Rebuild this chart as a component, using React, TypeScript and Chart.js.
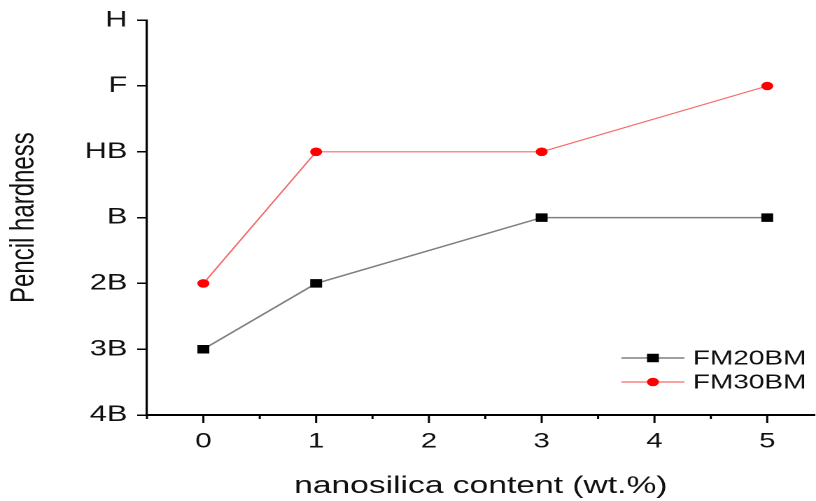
import React, { useEffect, useRef } from 'react';
import { Chart, registerables } from 'chart.js';
Chart.register(...registerables);

const hardnessLevels = ['4B', '3B', '2B', 'B', 'HB', 'F', 'H'];
const contents = [0, 1, 3, 5];
const fm20bm = ['3B', '2B', 'B', 'B'];
const fm30bm = ['2B', 'HB', 'HB', 'F'];
const seriesNames = ['FM20BM', 'FM30BM'];
const xAxisTitle = 'nanosilica content (wt.%)';
const yAxisTitle = 'Pencil hardness';

const W = 816;
const H = 501;
const STRETCH = 816 / 583;
const CW = 588;
const FONT = '"Liberation Sans", Arial, sans-serif';

const toPoints = (vals: string[]) =>
  contents.map((x, i) => ({ x, y: hardnessLevels.indexOf(vals[i]) }));

const xTicksPlugin = {
  id: 'xTicksCustom',
  afterDraw(chart: any) {
    const s = chart.scales.x;
    const ctx = chart.ctx;
    ctx.save();
    ctx.strokeStyle = '#000';
    ctx.lineWidth = 1.5;
    for (const t of s.ticks) {
      const v = t.value;
      if (v < s.min - 1e-9 || v > s.max + 1e-9) continue;
      const major = Math.abs(v - Math.round(v)) < 1e-6;
      const px = s.getPixelForValue(v);
      ctx.beginPath();
      ctx.moveTo(px, s.top);
      ctx.lineTo(px, s.top + (major ? 8 : 4));
      ctx.stroke();
    }
    ctx.restore();
  },
};

const legendPlugin = {
  id: 'lineLegend',
  afterDraw(chart: any) {
    const { ctx, chartArea } = chart;
    const x0 = chartArea.right - 138;
    const y0 = chartArea.bottom - 57;
    ctx.save();
    chart.data.datasets.forEach((ds: any, i: number) => {
      const y = y0 + i * 24;
      ctx.strokeStyle = ds.borderColor;
      ctx.lineWidth = ds.borderWidth;
      ctx.beginPath();
      ctx.moveTo(x0, y);
      ctx.lineTo(x0 + 45, y);
      ctx.stroke();
      ctx.fillStyle = ds.pointBackgroundColor;
      const cx = x0 + 22.5;
      if (ds.pointStyle === 'rect') {
        const half = ds.pointRadius * Math.SQRT1_2;
        ctx.fillRect(cx - half, y - half, half * 2, half * 2);
      } else {
        ctx.beginPath();
        ctx.arc(cx, y, ds.pointRadius, 0, Math.PI * 2);
        ctx.fill();
      }
      ctx.fillStyle = '#111';
      ctx.font = `20px ${FONT}`;
      ctx.textAlign = 'left';
      ctx.textBaseline = 'middle';
      ctx.fillText(ds.label, x0 + 51, y + 1);
    });
    ctx.restore();
  },
};

export default function App() {
  const ref = useRef<HTMLCanvasElement | null>(null);
  useEffect(() => {
    if (!ref.current) return;
    const chart = new Chart(ref.current, {
      type: 'line',
      data: {
        datasets: [
          {
            label: seriesNames[0],
            data: toPoints(fm20bm),
            borderColor: '#808080',
            borderWidth: 1.5,
            pointStyle: 'rect',
            pointRadius: 6,
            pointBackgroundColor: '#000',
            pointBorderColor: '#000',
            pointBorderWidth: 0,
            tension: 0,
          },
          {
            label: seriesNames[1],
            data: toPoints(fm30bm),
            borderColor: '#f56a6a',
            borderWidth: 1.2,
            pointStyle: 'circle',
            pointRadius: 4.3,
            pointBackgroundColor: '#ff0000',
            pointBorderColor: '#ff0000',
            pointBorderWidth: 0,
            tension: 0,
          },
        ],
      },
      options: {
        animation: false,
        responsive: false,
        devicePixelRatio: 2,
        events: [],
        layout: { padding: { top: 20, left: 0, right: 0, bottom: 0 } },
        plugins: { legend: { display: false }, tooltip: { enabled: false } },
        scales: {
          x: {
            type: 'linear',
            min: -0.5,
            max: 5.42,
            afterFit: (s: any) => { s.height = 86; s.paddingLeft = 0; s.paddingRight = 0; },
            grid: { display: true, drawOnChartArea: false, drawTicks: false },
            border: { display: true, color: '#000', width: 2 },
            ticks: {
              stepSize: 0.5,
              includeBounds: false,
              autoSkip: false,
              maxRotation: 0,
              padding: 14,
              color: '#111',
              font: { family: FONT, size: 21 },
              callback: (v: any) =>
                Math.abs(v - Math.round(v)) < 1e-6 ? String(Math.round(v)) : '',
            },
            title: {
              display: true,
              text: xAxisTitle,
              color: '#111',
              font: { family: FONT, size: 24 },
              padding: { top: 0, bottom: 0 },
            },
          },
          y: {
            type: 'linear',
            min: 0,
            max: 6,
            afterFit: (s: any) => { s.width = 105; },
            grid: { display: true, drawOnChartArea: false, drawTicks: true, tickLength: 7, color: '#000', lineWidth: 1.5 },
            border: { display: true, color: '#000', width: 1.6 },
            ticks: {
              stepSize: 1,
              padding: 7,
              color: '#111',
              font: { family: FONT, size: 22 },
              callback: (v: any) => hardnessLevels[Math.round(v)] ?? '',
            },
            title: {
              display: true,
              text: yAxisTitle,
              color: '#111',
              font: { family: FONT, size: 24 },
              padding: { top: 3, bottom: 0 },
            },
          },
        },
      },
      plugins: [xTicksPlugin, legendPlugin],
    } as any);
    return () => chart.destroy();
  }, []);

  return (
    <div style={{ position: 'fixed', left: 0, top: 0, width: W, height: H, overflow: 'hidden', background: '#fff' }}>
      <canvas
        ref={ref}
        width={CW}
        height={H}
        style={{
          width: `${CW}px`,
          height: `${H}px`,
          transform: `scaleX(${STRETCH})`,
          transformOrigin: '0 0',
          display: 'block',
        }}
      />
    </div>
  );
}
